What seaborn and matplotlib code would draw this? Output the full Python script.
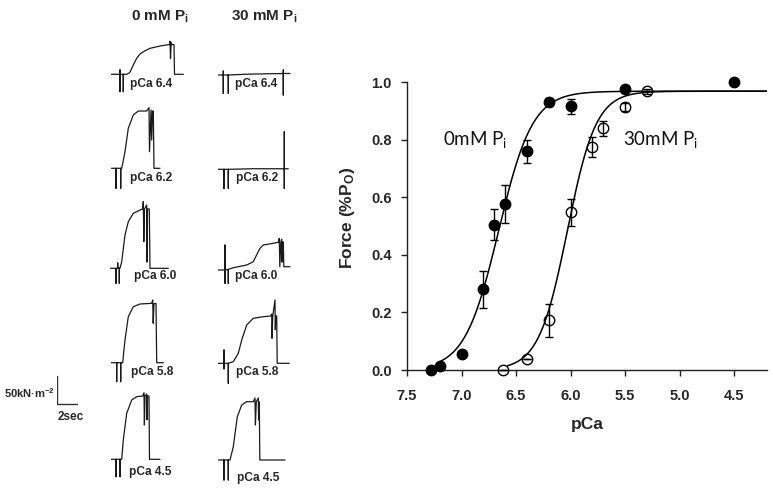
import numpy as np
import matplotlib
matplotlib.use("Agg")
import matplotlib.pyplot as plt
import seaborn as sns

# ---------------- data: steady-state force-pCa ----------------
pca_0 = [7.28, 7.2, 7.0, 6.8, 6.7, 6.6, 6.4, 6.2, 6.0, 5.5, 4.5]
force_0 = [0.0, 0.015, 0.055, 0.28, 0.505, 0.575, 0.76, 0.93, 0.915, 0.975, 1.0]
sem_0 = [0, 0, 0, 0.065, 0.055, 0.066, 0.04, 0.015, 0.027, 0.01, 0]

pca_30 = [6.62, 6.4, 6.2, 6.0, 5.8, 5.7, 5.5, 5.3]
force_30 = [0.0, 0.037, 0.173, 0.547, 0.775, 0.839, 0.913, 0.968]
sem_30 = [0, 0, 0.057, 0.046, 0.034, 0.027, 0.015, 0.008]

# Hill-fit parameters
fmax_fit = 0.968
pca50_0, nh_0 = 6.66, 2.8
pca50_30, nh_30 = 6.03, 3.3

x_ticks = [7.5, 7.0, 6.5, 6.0, 5.5, 5.0, 4.5]
y_ticks = [0.0, 0.2, 0.4, 0.6, 0.8, 1.0]

# ---------------- data: raw force traces (time s, force kN m^-2) ----------------
t_0_64 = [0, 0.93, 0.93, 0.93, 0.93, 1.26, 1.26, 1.26, 1.6, 1.9, 2.26, 2.6, 2.93, 3.43, 3.93, 4.93, 5.76, 5.9, 5.93, 5.98, 6.05, 6.1, 6.33, 6.38, 7.26]
f_0_64 = [0, 0, -31, 8, 0, 0, -31, 0, 0, 2.9, 16.6, 28.6, 36.3, 42.0, 46.4, 50.5, 52.9, 53.2, 59.0, 28.0, 57.0, 53.0, 53.0, 0, 0]

t_30_64 = [0, 0.5, 0.5, 0.5, 0.5, 1.0, 1.0, 1.0, 3.0, 6.5, 6.5, 6.5, 6.5, 7.17]
f_30_64 = [0, 0, -32.7, 7, 0, 0, -32.7, 0, 1.5, 2.7, 9, -35.7, 2.7, 2.7]

t_0_62 = [0, 0.53, 0.53, 0.53, 1.0, 1.0, 1.0, 1.1, 1.26, 1.43, 1.76, 2.26, 2.76, 3.6, 3.83, 3.88, 4.03, 4.1, 4.18, 4.26, 4.33, 4.93]
f_0_62 = [0, 0, -35.7, 0, 0, -35.7, 0, 0, 14, 29.6, 71.4, 95.2, 102.3, 102.3, 108.2, 29.6, 104, 50.5, 102.3, 102.3, 0, 0]

t_30_62 = [0, 0.57, 0.57, 0.57, 1.0, 1.0, 1.0, 3.5, 6.6, 6.6, 6.6, 6.6, 7.0]
f_30_62 = [0, 0, -34, 0, 0, -34, 0, 1, 1, 67, -34, 1, 1]

t_0_60 = [0, 0.6, 0.6, 0.6, 0.77, 0.77, 0.77, 0.93, 0.93, 0.93, 1.0, 1.17, 1.5, 1.83, 2.33, 3.0, 3.27, 3.33, 3.38, 3.45, 3.67, 3.7, 3.75, 3.93, 4.0, 5.83]
f_0_60 = [0, 0, -26.8, 0, 0, 9.5, 0, 0, -26.8, 0, 0, 11.8, 59.5, 83.2, 98.2, 104.1, 105.9, 119, 47.5, 105.9, 113, 11, 105.9, 105.9, 0, 0]

t_30_60 = [0, 0.67, 0.67, 0.67, 0.67, 1.0, 1.0, 1.0, 1.5, 2.83, 3.5, 3.83, 4.17, 4.5, 5.5, 6.0, 6.1, 6.15, 6.25, 6.34, 6.37, 6.42, 6.5, 6.55, 7.17]
f_30_60 = [0, 0, 44.6, -23.7, 0, 1, -23.7, 1, 4.1, 8.9, 14.8, 26.8, 38.8, 44.6, 47.7, 49.5, 56.6, 5.9, 50, 55, 14, 50, 50, 5.9, 5.9]

t_0_58 = [0, 0.57, 0.57, 0.57, 0.97, 0.97, 0.97, 1.17, 1.25, 1.4, 1.73, 2.23, 2.9, 4.07, 4.17, 4.22, 4.3, 4.5, 4.57, 5.23]
f_0_58 = [0, 0, -33.9, 0, 0, -33.9, 0, 0, 15, 40.5, 82.2, 100, 104.8, 106, 112, 70.4, 105.5, 105.7, 0, 0]

t_30_58 = [0, 0.57, 0.57, 0.57, 0.57, 1.0, 1.0, 1.0, 1.5, 2.0, 2.34, 2.84, 3.5, 4.5, 5.24, 5.34, 5.37, 5.45, 5.67, 5.7, 5.75, 5.84, 5.89, 7.1]
f_30_58 = [0, 0, 23.8, -10, 0, 0, -35.7, 0, 2.9, 17.9, 41.6, 68.4, 80.4, 83.2, 84.5, 88, 44.6, 84.5, 113, 60, 84.5, 84.5, 0, 0]

t_0_45 = [0, 0.5, 0.5, 0.5, 0.9, 0.9, 0.9, 1.07, 1.23, 1.57, 2.07, 2.57, 3.17, 3.3, 3.34, 3.4, 3.57, 3.6, 3.65, 3.8, 3.85, 4.9]
f_0_45 = [0, 0, -31, 0, 0, -31, 0, 0, 34.5, 82.2, 105.9, 111.8, 113, 119, 61.3, 113, 116.6, 70.4, 113, 113, 0, 0]

t_30_45 = [0, 0.57, 0.57, 0.57, 1.0, 1.0, 1.0, 1.17, 1.5, 1.9, 2.34, 2.84, 3.5, 3.67, 3.71, 3.8, 4.0, 4.03, 4.07, 4.1, 4.15, 6.67]
f_30_45 = [0, 0, -35.7, 0, 0, -35.7, 0, 0, 23.8, 77.3, 98.2, 104.1, 104.1, 110.7, 62.5, 104, 110.7, 71.4, 104, 103.6, 0, 0]

trace_labels = ["pCa 6.4", "pCa 6.4", "pCa 6.2", "pCa 6.2", "pCa 6.0", "pCa 6.0",
                "pCa 5.8", "pCa 5.8", "pCa 4.5", "pCa 4.5"]
column_titles = ["0 mM P$_i$", "30 mM P$_i$"]
scale_force = 50   # kN m^-2
scale_time = 2     # s

# ---------------- style ----------------
sns.set_theme(style="ticks")
plt.rcParams["font.family"] = ["Liberation Sans", "DejaVu Sans"]
plt.rcParams["mathtext.default"] = "regular"

W, H = 773, 488
fig = plt.figure(figsize=(W / 100, H / 100), dpi=100)
fig.patch.set_facecolor("white")


def fx(x):
    return x / W


def fy(y):
    return 1 - y / H


# trace layout (pixels): x of time 0, y of force 0, label centre
PX_PER_S = 10.0
PX_PER_KN = 0.56
T_LIM = (0, 8)
F_LIM = (-40, 125)
layout = [
    (110.7, 74.3, 151.5, 83.5), (218.3, 75.0, 256, 83.5),
    (110.7, 168.3, 151.5, 177.5), (218.3, 169.3, 257.5, 177.5),
    (110.0, 268.3, 155.5, 276.5), (218.3, 270.0, 256, 275.5),
    (111.0, 362.7, 152.5, 372), (218.3, 363.3, 256.7, 372),
    (111.0, 459.3, 150.5, 472.5), (218.3, 460.0, 258.3, 477.5),
]
traces = [(t_0_64, f_0_64), (t_30_64, f_30_64), (t_0_62, f_0_62), (t_30_62, f_30_62),
          (t_0_60, f_0_60), (t_30_60, f_30_60), (t_0_58, f_0_58), (t_30_58, f_30_58),
          (t_0_45, f_0_45), (t_30_45, f_30_45)]

aw = (T_LIM[1] - T_LIM[0]) * PX_PER_S
ah = (F_LIM[1] - F_LIM[0]) * PX_PER_KN
below = -F_LIM[0] * PX_PER_KN


def trace_axes(x0, base):
    a = fig.add_axes([fx(x0), fy(base + below), aw / W, ah / H])
    a.set_xlim(*T_LIM)
    a.set_ylim(*F_LIM)
    a.axis("off")
    return a


for (t, f), (x0, base, lx, ly), lab in zip(traces, layout, trace_labels):
    a = trace_axes(x0, base)
    sns.lineplot(x=t, y=f, ax=a, sort=False, estimator=None, color="#1a1a1a", lw=0.9)
    fig.text(fx(lx), fy(ly), lab, ha="center", va="center", fontsize=8.6, fontweight="bold")

fig.text(fx(130.7), fy(20.7), column_titles[0], ha="left", va="baseline", fontsize=11, fontweight="bold")
fig.text(fx(230.7), fy(20.7), column_titles[1], ha="left", va="baseline", fontsize=11, fontweight="bold")

# scale bar
sa = trace_axes(56.7, 404)
sns.lineplot(x=[0, 0, scale_time], y=[scale_force, 0, 0], ax=sa, sort=False, estimator=None,
             color="#333333", lw=1.0)
fig.text(fx(55), fy(398.5), "%dkN·m$^{-2}$" % scale_force, ha="right", va="baseline",
         fontsize=8, fontweight="bold")
fig.text(fx(57.3), fy(420), "%dsec" % scale_time, ha="left", va="baseline",
         fontsize=8.5, fontweight="bold")

# ---------------- force-pCa axes ----------------
ax = fig.add_axes([fx(407), fy(370), (767 - 407) / W, (370 - 82) / H])
ax.set_facecolor("none")

xc0 = np.linspace(7.2, 4.2, 400)
xc30 = np.linspace(6.58, 4.2, 400)
yc0 = fmax_fit / (1 + 10 ** (nh_0 * (xc0 - pca50_0)))
yc30 = fmax_fit / (1 + 10 ** (nh_30 * (xc30 - pca50_30)))
sns.lineplot(x=xc0, y=yc0, ax=ax, color="black", lw=1.1, sort=False, estimator=None, zorder=2)
sns.lineplot(x=xc30, y=yc30, ax=ax, color="black", lw=1.1, sort=False, estimator=None, zorder=2)

ax.errorbar(pca_0, force_0, yerr=sem_0, fmt="o", ms=7.5, mfc="black", mec="black",
            ecolor="black", elinewidth=1.0, capsize=3, capthick=1.0, zorder=3, clip_on=False)
ax.errorbar(pca_30, force_30, yerr=sem_30, fmt="o", ms=7.5, mfc="none", mec="black", mew=1.0,
            ecolor="black", elinewidth=1.0, capsize=3, capthick=1.0, zorder=3, clip_on=False)

ax.set_xlim(7.5, 4.2)
ax.set_ylim(0, 1.0)
ax.set_xticks(x_ticks)
ax.set_xticklabels(["%.1f" % v for v in x_ticks])
ax.set_yticks(y_ticks)
ax.set_yticklabels(["%.1f" % v for v in y_ticks])
for lab in ax.get_xticklabels() + ax.get_yticklabels():
    lab.set_fontweight("bold")
ax.tick_params(axis="x", direction="out", length=4.5, width=1.0, labelsize=10.5, pad=9.5, color="#222")
ax.tick_params(axis="y", direction="out", length=4.5, width=1.0, labelsize=10.5, pad=6.5, color="#222")
sns.despine(ax=ax)
for s in ("left", "bottom"):
    ax.spines[s].set_linewidth(1.0)
    ax.spines[s].set_color("#222")

ax.set_xlabel("pCa", fontsize=12.5, fontweight="bold")
ax.set_ylabel("Force (%P$_O$)", fontsize=12.5, fontweight="bold")
ax.xaxis.set_label_coords((587 - 407) / 360, (370 - 425) / 288)
ax.xaxis.label.set_va("center")
ax.yaxis.set_label_coords((347.5 - 407) / 360, (370 - 218) / 288)
ax.yaxis.label.set_va("center")

ax.text(7.17, 0.80, "0mM P$_i$", fontsize=13.5, family=["Lato", "DejaVu Sans"],
        ha="left", va="center", color="#111")
ax.text(5.52, 0.80, "30mM P$_i$", fontsize=13.5, family=["Lato", "DejaVu Sans"],
        ha="left", va="center", color="#111")

fig.savefig("out.png", dpi=100, facecolor="white")
